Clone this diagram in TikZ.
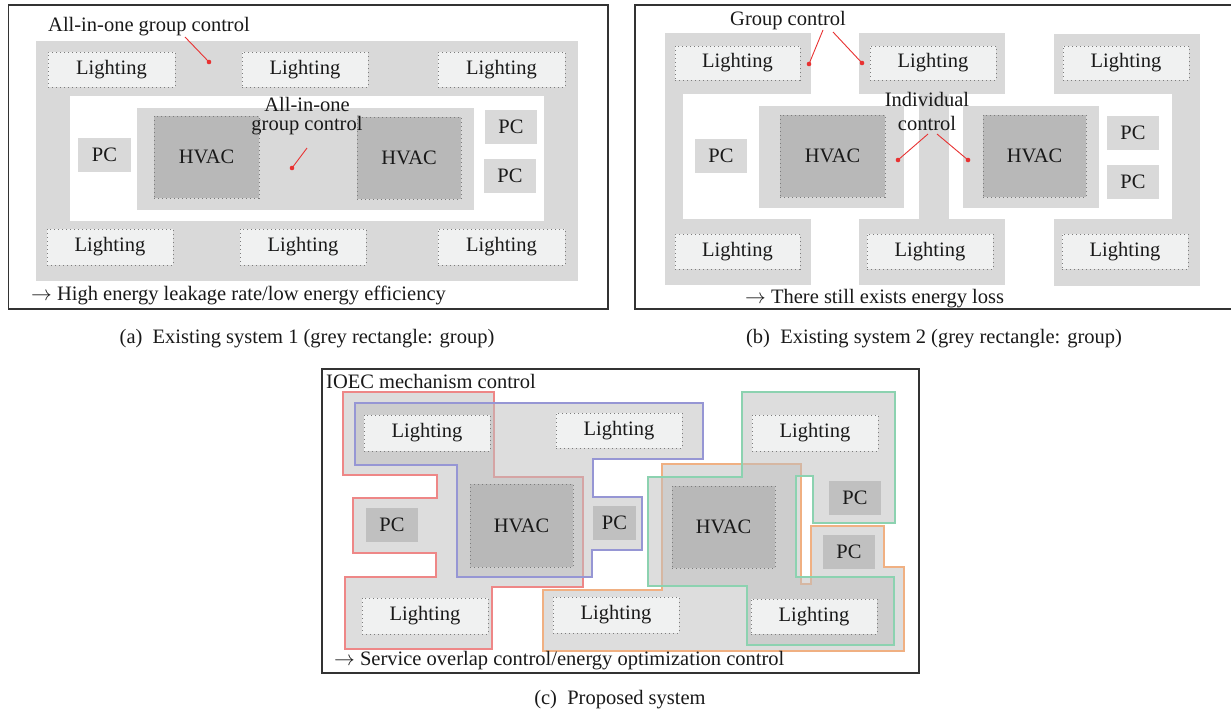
\documentclass[tikz,border=0pt]{standalone}
\usepackage{fontspec}
\setmainfont{Liberation Serif}
\definecolor{grpgray}{RGB}{217,217,217}
\definecolor{hvacgray}{RGB}{184,184,184}
\definecolor{lightfill}{RGB}{240,241,241}
\definecolor{pcgrayC}{RGB}{192,192,192}
\definecolor{dotgray}{RGB}{125,125,125}
\definecolor{regfill}{RGB}{191,191,191}
\definecolor{cred}{RGB}{238,135,135}
\definecolor{cblue}{RGB}{150,150,212}
\definecolor{corange}{RGB}{240,176,130}
\definecolor{cgreen}{RGB}{140,210,176}
\definecolor{conn}{RGB}{232,50,50}
\newcommand{\abox}[7]{\node[#1, minimum width={(#5-#3)*1pt}, minimum height={(#6-#4)*1pt}] (#2) at ({(#3+#5)/2},{(#4+#6)/2}) {#7};}
\tikzset{
  every node/.style={font=\fontsize{20.5}{22}\selectfont, text=black!90},
  light/.style={fill=lightfill, draw=dotgray, dash pattern=on 1pt off 3pt, line width=1pt, inner sep=0, outer sep=0},
  hvac/.style={fill=hvacgray, draw=dotgray, dash pattern=on 1pt off 3pt, line width=1pt, inner sep=0, outer sep=0},
  pcbox/.style={fill=grpgray, inner sep=0, outer sep=0},
  pcboxc/.style={fill=pcgrayC, inner sep=0, outer sep=0},
  frame/.style={draw=black!80, line width=1.4pt},
  grp/.style={fill=grpgray},
  redline/.style={draw=conn, line width=0.9pt},
  reg/.style={fill=regfill, fill opacity=0.53, line width=1.3pt},
  caption/.style={font=\fontsize{20.5}{22}\selectfont},
}
\begin{document}
\begin{tikzpicture}[x=1pt,y=-1pt]
\useasboundingbox[fill=white] (0,0) rectangle (1231,713);

% ===================== Panel (a) =====================
\draw[frame] (8.5,5) rectangle (608,309);
\fill[grp] (36,41) rectangle (578,281);
\fill[white] (70,96) rectangle (544,221);
\fill[grp] (137,108) rectangle (474,210);
\abox{hvac}{ah1}{154}{116}{259}{198}{HVAC}
\abox{hvac}{ah2}{357}{117}{461}{199}{HVAC}
\abox{pcbox}{ap1}{78}{138}{131}{172}{PC}
\abox{pcbox}{ap2}{485}{110}{537}{144}{PC}
\abox{pcbox}{ap3}{484}{159}{536}{193}{PC}
\abox{light}{al1}{48}{52}{175}{87}{Lighting}
\abox{light}{al2}{242}{52}{368}{87}{Lighting}
\abox{light}{al3}{438}{52}{565}{87}{Lighting}
\abox{light}{al4}{47}{229}{173}{265}{Lighting}
\abox{light}{al5}{240}{229}{366}{265}{Lighting}
\abox{light}{al6}{438}{229}{565}{265}{Lighting}
\node[anchor=west, inner sep=0] (atitle) at (48,27) {All-in-one group control};
\coordinate (a1s) at (185,37);
\coordinate (a1e) at (209,62);
\draw[redline] (a1s) -- (a1e);
\fill[conn] (a1e) circle (2.3pt);
\node[align=center, inner sep=0, font=\fontsize{20.5}{19}\selectfont] (actr) at (307,116) {All-in-one\\group control};
\coordinate (a2s) at (307,148);
\coordinate (a2e) at (292,168);
\draw[redline] (a2s) -- (a2e);
\fill[conn] (a2e) circle (2.3pt);
\node[anchor=west, inner sep=0] (anote) at (31,295) {$\rightarrow$ High energy leakage rate/low energy efficiency};
\node[caption] (acap) at (307,339) {(a)\enspace Existing system 1 (grey rectangle: group)};

% ===================== Panel (b) =====================
\draw[frame] (1235,5) -- (635,5) -- (635,309) -- (1235,309);
\fill[grp] (665,33) rectangle (811,94);
\fill[grp] (859,33) rectangle (1005,94);
\fill[grp] (1054,34) rectangle (1200,94);
\fill[grp] (665,219) rectangle (811,285);
\fill[grp] (859,219) rectangle (1005,285);
\fill[grp] (1054,219) rectangle (1200,286);
\fill[grp] (665,93) rectangle (683,220);
\fill[grp] (1172,93) rectangle (1200,220);
\fill[grp] (919,93) rectangle (949,220);
\fill[grp] (759,106) rectangle (904,208);
\fill[grp] (963,106) rectangle (1099,208);
\abox{hvac}{bh1}{780}{115}{885}{197}{HVAC}
\abox{hvac}{bh2}{983}{115}{1086}{197}{HVAC}
\abox{pcbox}{bp1}{695}{139}{747}{173}{PC}
\abox{pcbox}{bp2}{1107}{116}{1159}{150}{PC}
\abox{pcbox}{bp3}{1107}{165}{1159}{199}{PC}
\abox{light}{bl1}{675}{46}{800}{80}{Lighting}
\abox{light}{bl2}{870}{46}{996}{80}{Lighting}
\abox{light}{bl3}{1063}{46}{1189}{80}{Lighting}
\abox{light}{bl4}{675}{234}{800}{269}{Lighting}
\abox{light}{bl5}{867}{234}{993}{269}{Lighting}
\abox{light}{bl6}{1062}{234}{1188}{269}{Lighting}
\node[inner sep=0] (btitle) at (788,21) {Group control};
\coordinate (b1s) at (823,30);
\coordinate (b1e) at (809,64);
\coordinate (b2s) at (833,32);
\coordinate (b2e) at (862,63);
\draw[redline] (b1s) -- (b1e);
\draw[redline] (b2s) -- (b2e);
\fill[conn] (b1e) circle (2.3pt);
\fill[conn] (b2e) circle (2.3pt);
\node[align=center, inner sep=0, font=\fontsize{20.5}{24}\selectfont] (bctr) at (927,111) {Individual\\control};
\coordinate (b3s) at (928,134);
\coordinate (b3e) at (898,160);
\coordinate (b4s) at (937,134);
\coordinate (b4e) at (968,160);
\draw[redline] (b3s) -- (b3e);
\draw[redline] (b4s) -- (b4e);
\fill[conn] (b3e) circle (2.3pt);
\fill[conn] (b4e) circle (2.3pt);
\node[anchor=west, inner sep=0] (bnote) at (745,299) {$\rightarrow$ There still exists energy loss};
\node[caption] (bcap) at (934,339) {(b)\enspace Existing system 2 (grey rectangle: group)};

% ===================== Panel (c) =====================
\draw[frame] (322,369) rectangle (919,673);
\node[anchor=west, inner sep=0] (ctitle) at (326,381) {IOEC mechanism control};
\path[reg, draw=cred] (343,392) -- (494,392) -- (494,477) -- (583,477) -- (583,587) -- (492,587) -- (492,649) -- (345,649) -- (345,577) -- (436,577) -- (436,553) -- (353,553) -- (353,498) -- (437,498) -- (437,475) -- (343,475) -- cycle;
\path[reg, draw=cblue] (355,403) -- (703,403) -- (703,459) -- (593,459) -- (593,497) -- (642,497) -- (642,550) -- (592,550) -- (592,577) -- (457,577) -- (457,465) -- (355,465) -- cycle;
\path[reg, draw=corange] (662,464) -- (801,464) -- (801,584) -- (811,584) -- (811,526) -- (884,526) -- (884,567) -- (904,567) -- (904,651) -- (543,651) -- (543,590) -- (662,590) -- cycle;
\path[reg, draw=cgreen] (742,392) -- (895,392) -- (895,523) -- (813,523) -- (813,476) -- (796,476) -- (796,577) -- (894,577) -- (894,645) -- (747,645) -- (747,586) -- (648,586) -- (648,477) -- (742,477) -- cycle;
\abox{light}{cl1}{364}{415}{490}{451}{Lighting}
\abox{light}{cl2}{556}{413}{682}{448}{Lighting}
\abox{light}{cl3}{752}{415}{878}{451}{Lighting}
\abox{light}{cl4}{362}{598}{488}{634}{Lighting}
\abox{light}{cl5}{553}{597}{679}{633}{Lighting}
\abox{light}{cl6}{751}{599}{877}{634}{Lighting}
\abox{hvac}{ch1}{470}{484}{573}{567}{HVAC}
\abox{hvac}{ch2}{672}{486}{775}{568}{HVAC}
\abox{pcboxc}{cp1}{366}{508}{418}{542}{PC}
\abox{pcboxc}{cp2}{593}{506}{636}{540}{PC}
\abox{pcboxc}{cp3}{829}{481}{881}{515}{PC}
\abox{pcboxc}{cp4}{823}{535}{875}{569}{PC}
\node[anchor=west, inner sep=0] (cnote) at (334,661) {$\rightarrow$ Service overlap control/energy optimization control};
\node[caption] (ccap) at (620,700) {(c)\enspace Proposed system};
\end{tikzpicture}
\end{document}
